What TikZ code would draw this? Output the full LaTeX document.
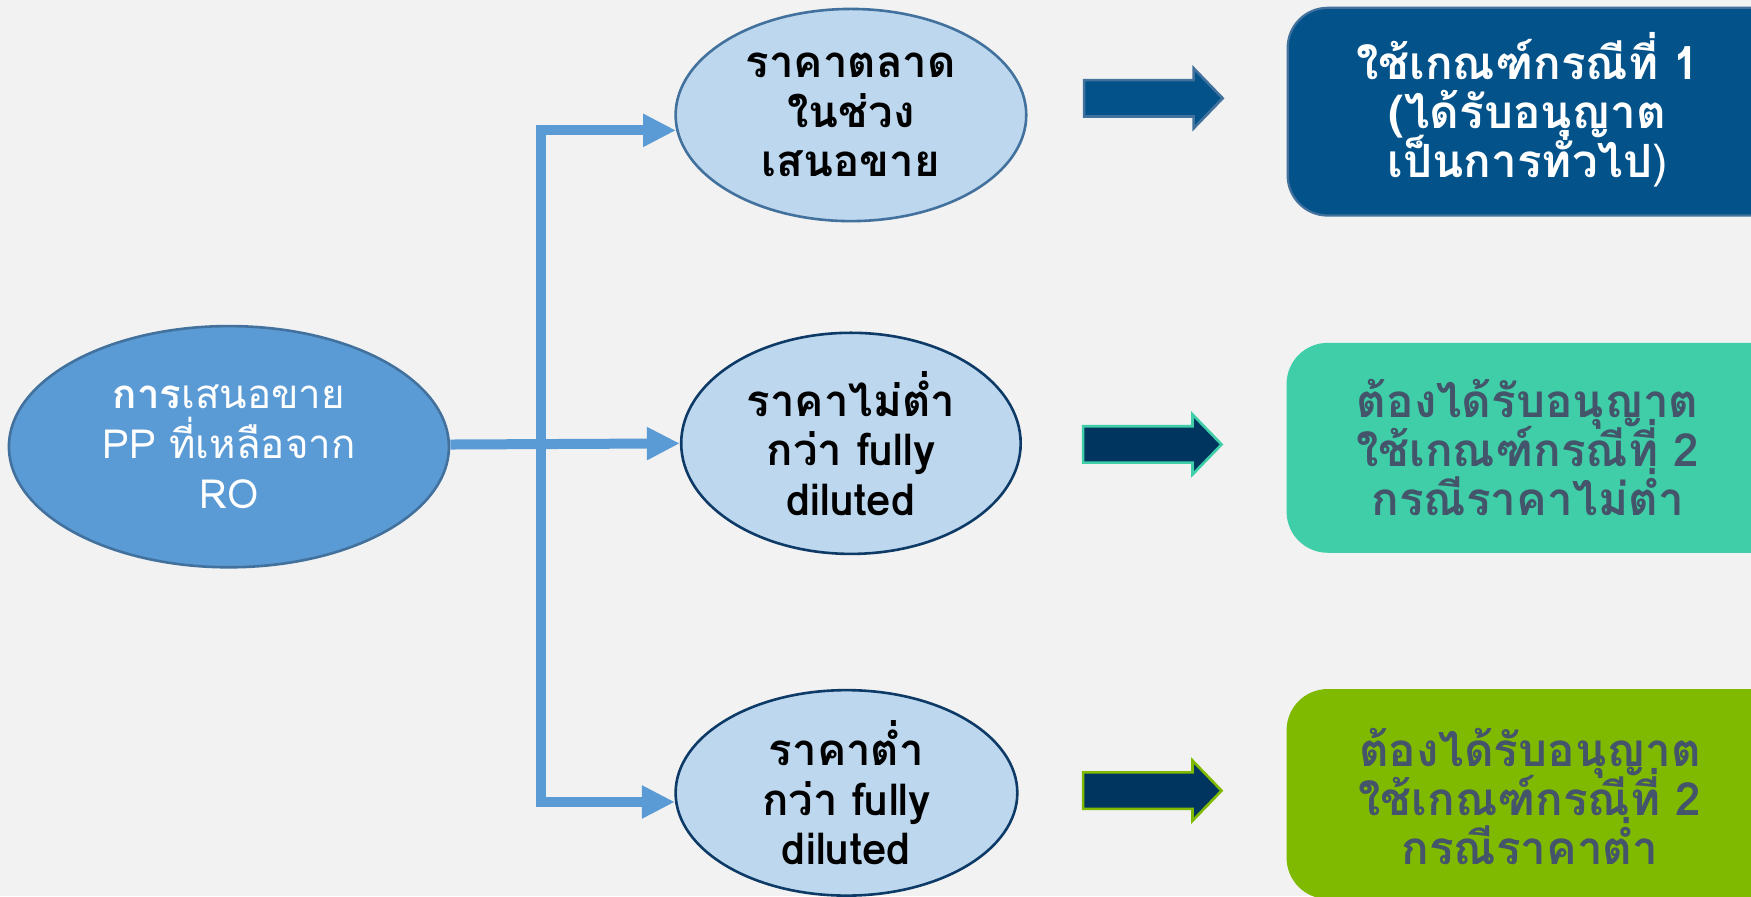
\documentclass[tikz,border=0pt]{standalone}
\usepackage{fontspec}
\newfontfamily\thai[Script=Thai]{Loma}
\usetikzlibrary{shapes.geometric,shapes.arrows,arrows.meta}
\newcommand\tightlines{\setlength{\lineskiplimit}{-20pt}\setlength{\lineskip}{0pt}}
\definecolor{bg}{HTML}{F2F2F2}
\definecolor{mainblue}{HTML}{5B9BD5}
\definecolor{mainedge}{HTML}{41719C}
\definecolor{lightblue}{HTML}{BDD7EE}
\definecolor{navyedge}{HTML}{0D3A66}
\definecolor{boxblue}{HTML}{03538A}
\definecolor{navyfill}{HTML}{003560}
\definecolor{teal}{HTML}{3FCEA7}
\definecolor{lime}{HTML}{80BA00}
\definecolor{slate}{HTML}{44546A}
\tikzset{
  ell/.style={ellipse, inner sep=0pt, align=center, line width=1.3pt,
    font=\thai\bfseries\fontsize{19.6}{22.2}\selectfont\tightlines},
  conn/.style={draw=mainblue, line width=5pt, line join=miter,
    -{Triangle[length=16.5pt,width=15.5pt]}},
  blockarrow/.style={single arrow, inner sep=7.5pt, single arrow head extend=5.3pt,
    single arrow tip angle=92, minimum height=62pt, line width=1.3pt},
  outbox/.style={rounded corners=20pt, minimum width=324pt, minimum height=93pt,
    anchor=west, line width=1.1pt},
  boxtext/.style={align=center, font=\thai\bfseries\fontsize{20.5}{22}\selectfont\tightlines}
}
\begin{document}
\begin{tikzpicture}[x=0.5pt,y=-0.5pt,scale=1.1167,every node/.append style={transform shape}]
\useasboundingbox (0,0) rectangle (1568,802.4);
\clip (0,0) rectangle (1568,802.4);
\fill[bg] (0,0) rectangle (1568,802.4);
% ellipses
\node[ell, fill=mainblue, draw=mainedge, text=white, minimum width=197pt, minimum height=108pt,
  font=\thai\mdseries\fontsize{18}{22.5}\selectfont\tightlines] (e0) at (205,400)
  {\textbf{การ}เสนอขาย\\PP ที่เหลือจาก\\RO};
\node[ell, fill=lightblue, draw=mainedge, minimum width=157pt, minimum height=95pt] (e1) at (762,103)
  {ราคาตลาด\\ในช่วง\\เสนอขาย};
\node[ell, fill=lightblue, draw=navyedge, minimum width=152pt, minimum height=99pt] (e2) at (762,397)
  {ราคาไม่ต่ำ\\กว่า fully\\diluted};
\node[ell, fill=lightblue, draw=navyedge, minimum width=153pt, minimum height=92pt] (e3) at (758,710)
  {ราคาต่ำ\\กว่า fully\\diluted};
% connectors
\coordinate (j) at (484,398);
\draw[conn] (e0.east |- j) -- (e2.west);
\draw[conn] (j) |- (e1.185);
\draw[conn] (j) |- (e3.183);
% block arrows
\node[blockarrow, fill=boxblue, draw=mainedge] (a1) at (1025,88) {};
\node[blockarrow, fill=navyfill, draw=teal] (a2) at (1024,398) {};
\node[blockarrow, fill=navyfill, draw=lime] (a3) at (1024,708) {};
% result boxes
\node[outbox, fill=boxblue, draw=mainedge] (b1) at (1152,100) {};
\node[outbox, fill=teal, draw=teal] (b2) at (1152,401) {};
\node[outbox, fill=lime, draw=lime] (b3) at (1152,711) {};
\node[boxtext, text=white] (t1) at (1368,98)
  {ใช้เกณฑ์กรณีที่ 1\\(ได้รับอนุญาต\\เป็นการทั่วไป{\mdseries )}};
\node[boxtext, text=slate] (t2) at (1368,401)
  {ต้องได้รับอนุญาต\\ใช้เกณฑ์กรณีที่ 2\\กรณีราคาไม่ต่ำ};
\node[boxtext, text=slate] (t3) at (1370,713)
  {ต้องได้รับอนุญาต\\ใช้เกณฑ์กรณีที่ 2\\กรณีราคาต่ำ};
\end{tikzpicture}
\end{document}
